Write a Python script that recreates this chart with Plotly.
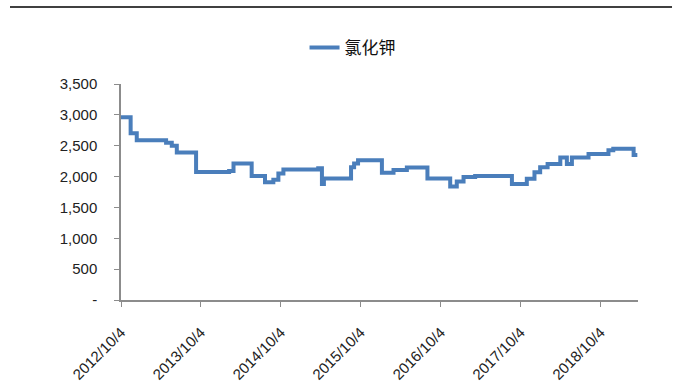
import plotly.graph_objects as go

# Potassium chloride price, weekly change points (step series)
dates = [
    "2012-10-04", "2012-11-17", "2012-12-15", "2013-04-28", "2013-05-24",
    "2013-06-16", "2013-09-12", "2014-02-10", "2014-03-02", "2014-05-24",
    "2014-07-24", "2014-08-31", "2014-09-23", "2014-10-16", "2015-03-24",
    "2015-04-10", "2015-04-19", "2015-08-21", "2015-09-04", "2015-09-22",
    "2016-01-09", "2016-03-02", "2016-05-02", "2016-08-04", "2016-11-16",
    "2016-12-16", "2017-01-16", "2017-03-10", "2017-08-25", "2017-11-01",
    "2017-12-06", "2018-01-01", "2018-02-04", "2018-04-03", "2018-05-03",
    "2018-05-26", "2018-08-10", "2018-11-09", "2018-12-01", "2019-03-04",
    "2019-03-21",
]
prices = [
    2960, 2700, 2590, 2550, 2500,
    2390, 2075, 2090, 2210, 2010,
    1910, 1950, 2050, 2115, 2135,
    1880, 1970, 2150, 2210, 2265,
    2060, 2105, 2145, 1970, 1840,
    1920, 1995, 2010, 1880, 1965,
    2070, 2150, 2205, 2310, 2205,
    2310, 2365, 2425, 2450, 2350,
    2350,
]
series_name = "氯化钾"

x_tick_vals = ["2012-10-04", "2013-10-04", "2014-10-04", "2015-10-04",
               "2016-10-04", "2017-10-04", "2018-10-04"]
x_tick_text = ["2012/10/4", "2013/10/4", "2014/10/4", "2015/10/4",
               "2016/10/4", "2017/10/4", "2018/10/4"]
y_tick_vals = [0, 500, 1000, 1500, 2000, 2500, 3000, 3500]
y_tick_text = ["-", "500", "1,000", "1,500", "2,000", "2,500", "3,000", "3,500"]

fig = go.Figure()
fig.add_trace(go.Scatter(
    x=dates, y=prices, name=series_name, mode="lines",
    line=dict(color="#4A7EBB", width=4, shape="hv"),
))

tick_font = dict(family="Liberation Sans, Arial, sans-serif", size=15, color="#222222")

fig.update_layout(
    width=682, height=383,
    margin=dict(l=121, r=44, t=84, b=83),
    paper_bgcolor="white", plot_bgcolor="white",
    showlegend=True,
    legend=dict(
        x=0.355, y=1.167, xanchor="left", yanchor="middle",
        orientation="h", bgcolor="rgba(0,0,0,0)",
        font=dict(family="Noto Sans CJK SC, sans-serif", size=17, color="#111111"),
    ),
    xaxis=dict(
        type="date", range=["2012-10-04", "2019-03-24"],
        tickvals=x_tick_vals, ticktext=x_tick_text, tickangle=-45,
        showgrid=False, zeroline=False, automargin=False,
        showline=True, linecolor="#8C8C8C", linewidth=1.5,
        ticks="outside", ticklen=5, tickcolor="#8C8C8C",
        tickfont=tick_font, ticklabelstandoff=11,
    ),
    yaxis=dict(
        range=[0, 3500], tickvals=y_tick_vals, ticktext=y_tick_text,
        showgrid=False, zeroline=False, automargin=False,
        showline=True, linecolor="#8C8C8C", linewidth=1.5,
        ticks="outside", ticklen=5, tickcolor="#8C8C8C",
        tickfont=tick_font, ticklabelstandoff=14,
    ),
    shapes=[dict(
        type="line", xref="paper", yref="paper",
        x0=-0.2147, x1=1.0658, y0=1.3565, y1=1.3565,
        line=dict(color="#404040", width=2),
    )],
)

fig.write_html("out.html")
